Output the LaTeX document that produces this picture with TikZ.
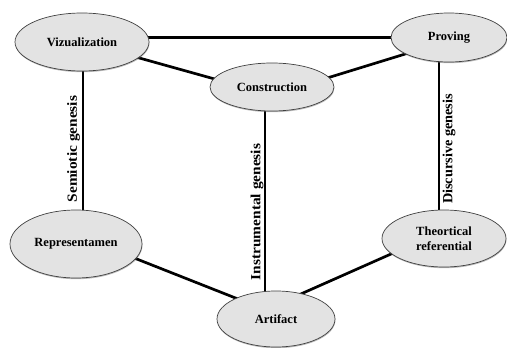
\documentclass[tikz,border=0pt]{standalone}
\usepackage{fontspec}
\setmainfont{Liberation Serif}
\usetikzlibrary{backgrounds,shadows,shapes.geometric}
\begin{document}
\begin{tikzpicture}[x=1pt,y=-1pt,
  stage/.style={ellipse, draw=black!75, line width=0.7pt, fill=gray!22,
    font=\fontsize{12.5}{14.5}\selectfont\bfseries, inner sep=0pt, align=center,
    drop shadow={shadow xshift=0.4pt, shadow yshift=-1.2pt, fill=black!60, opacity=0.45}},
  link/.style={line width=2.7pt, black},
  genlabel/.style={rotate=90, font=\fontsize{14}{16}\selectfont\bfseries, inner sep=0pt}]
\useasboundingbox (0,0) rectangle (507,348);

\node[stage, minimum width=134pt, minimum height=58pt] (viz)  at (82,42)    {Vizualization};
\node[stage, minimum width=116pt, minimum height=49pt] (prov) at (449,37.5) {Proving};
\node[stage, minimum width=124pt, minimum height=48pt] (con)  at (272,87)   {Construction};
\node[stage, minimum width=132pt, minimum height=68pt] (rep)  at (76,244)   {Representamen};
\node[stage, minimum width=124pt, minimum height=57pt] (theo) at (444,238.5) {Theortical\\referential};
\node[stage, minimum width=118pt, minimum height=56pt] (art)  at (276,319)  {Artifact};

\begin{scope}[on background layer]
\draw[link] (viz.center |- prov.center) -- (prov.center);
\draw[link] ([xshift=1pt]viz.center) -- ([xshift=1pt]viz.center |- rep.center);
\draw[link] ([xshift=-7pt]con.center) -- ([xshift=-7pt]con.center |- art.center);
\draw[link] ([xshift=-10pt]prov.center) -- ([xshift=-10pt]prov.center |- theo.center);
\draw[link] (viz.center) -- ([yshift=-8pt]con.center);
\draw[link] ([yshift=-8pt]con.center) -- ([yshift=-3pt]prov.center);
\draw[link] ([yshift=9pt]rep.center) -- ([yshift=5pt]art.center);
\draw[link] ([yshift=14pt]art.center) -- ([yshift=8pt]theo.center);
\end{scope}

\node[genlabel] (sem)   at (73.5,149) {\scalebox{1.1}[1]{Semiotic genesis}};
\node[genlabel] (instr) at (257,212)  {\scalebox{1.1}[1]{Instrumental genesis}};
\node[genlabel] (disc)  at (449,149)  {\scalebox{1.02}[1]{Discursive genesis}};
\end{tikzpicture}
\end{document}
